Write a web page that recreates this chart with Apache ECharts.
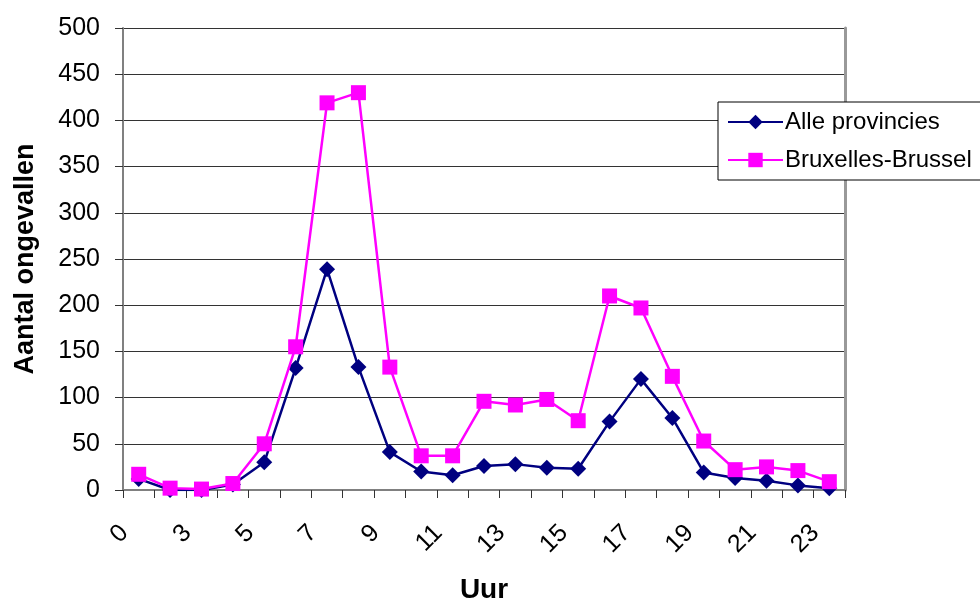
<!DOCTYPE html>
<html>
<head>
<meta charset="utf-8">
<script src="https://cdn.jsdelivr.net/npm/echarts@6/dist/echarts.min.js"></script>
<style>
  html, body { margin: 0; padding: 0; background: #ffffff; }
  #chart { width: 980px; height: 605px; }
</style>
</head>
<body>
<div id="chart"></div>
<script>
// Hour categories (x axis); every other one is labelled
const hours = ['0', '2', '3', '4', '5', '6', '7', '8', '9', '10', '11', '12',
               '13', '14', '15', '16', '17', '18', '19', '20', '21', '22', '23'];

// Number of accidents per hour
const alleProvinciesValues = [12, 0, 0, 6, 30, 132, 239, 133, 41, 20, 16, 26,
                              28, 24, 23, 74, 120, 78, 19, 13, 10, 5, 2];
const bruxellesValues = [17, 2, 1, 7, 50, 155, 419, 430, 133, 37, 37, 96,
                         92, 98, 75, 210, 197, 123, 53, 22, 25, 21, 9];

const seriesNames = ['Alle provincies', 'Bruxelles-Brussel'];

// Value axis range
const yMin = 0, yMax = 500, yStep = 50;

const FONT = 'Liberation Sans, Arial, sans-serif';

const chart = echarts.init(document.getElementById('chart'), null, { renderer: 'canvas' });

chart.setOption({
  backgroundColor: '#ffffff',
  animation: false,
  textStyle: { fontFamily: FONT },
  grid: { left: 123, right: 135, top: 28, bottom: 115, containLabel: false, outerBoundsMode: 'none' },
  legend: {
    left: 718,
    top: 102,
    orient: 'vertical',
    data: seriesNames,
    backgroundColor: '#ffffff',
    borderColor: '#000000',
    borderWidth: 1,
    borderRadius: 0,
    padding: [8, 30, 8, 9],
    itemWidth: 55,
    itemHeight: 18,
    itemGap: 14,
    textStyle: { fontSize: 24, color: '#000000', fontFamily: FONT, padding: [0, 0, 0, -3] }
  },
  xAxis: {
    type: 'category',
    data: hours,
    boundaryGap: true,
    name: 'Uur',
    nameLocation: 'middle',
    nameGap: 86,
    nameTextStyle: { fontSize: 28, fontWeight: 'bold', color: '#000000', fontFamily: FONT },
    axisLine: { show: true, lineStyle: { color: '#808080', width: 2 } },
    axisTick: { show: true, inside: false, length: 8, interval: 0, alignWithLabel: false,
                lineStyle: { color: '#333333', width: 1 } },
    axisLabel: {
      interval: 1,
      rotate: 45,
      margin: 25,
      fontSize: 25,
      color: '#000000',
      fontFamily: FONT,
      padding: [0, 20, 0, 0]
    },
    splitLine: { show: false }
  },
  yAxis: [{
    type: 'value',
    min: yMin,
    max: yMax,
    interval: yStep,
    name: 'Aantal ongevallen',
    nameLocation: 'middle',
    nameGap: 84,
    nameRotate: 90,
    nameTextStyle: { fontSize: 27, fontWeight: 'bold', color: '#000000', fontFamily: FONT },
    axisLine: { show: true, lineStyle: { color: '#808080', width: 2 } },
    axisTick: { show: true, inside: false, length: 8, lineStyle: { color: '#333333', width: 1 } },
    axisLabel: { margin: 23, fontSize: 25, color: '#000000', fontFamily: FONT },
    splitLine: { show: true, lineStyle: { color: '#333333', width: 1 } }
  }, {
    // right edge of the plot area
    type: 'value',
    position: 'right',
    min: yMin,
    max: yMax,
    interval: yStep,
    axisLine: { show: true, lineStyle: { color: '#999999', width: 3 } },
    axisTick: { show: false },
    axisLabel: { show: false },
    splitLine: { show: false }
  }],
  series: [
    {
      name: seriesNames[0],
      type: 'line',
      data: alleProvinciesValues,
      yAxisIndex: 0,
      z: 3,
      symbol: 'diamond',
      symbolSize: 16,
      showAllSymbol: true,
      lineStyle: { color: '#000080', width: 2.5 },
      itemStyle: { color: '#000080', borderColor: '#000080', borderWidth: 0 }
    },
    {
      name: seriesNames[1],
      type: 'line',
      data: bruxellesValues,
      yAxisIndex: 0,
      z: 4,
      symbol: 'rect',
      symbolSize: 15,
      showAllSymbol: true,
      lineStyle: { color: '#FF00FF', width: 2.5 },
      itemStyle: { color: '#FF00FF', borderColor: '#FF00FF', borderWidth: 0 }
    }
  ]
});
</script>
</body>
</html>
